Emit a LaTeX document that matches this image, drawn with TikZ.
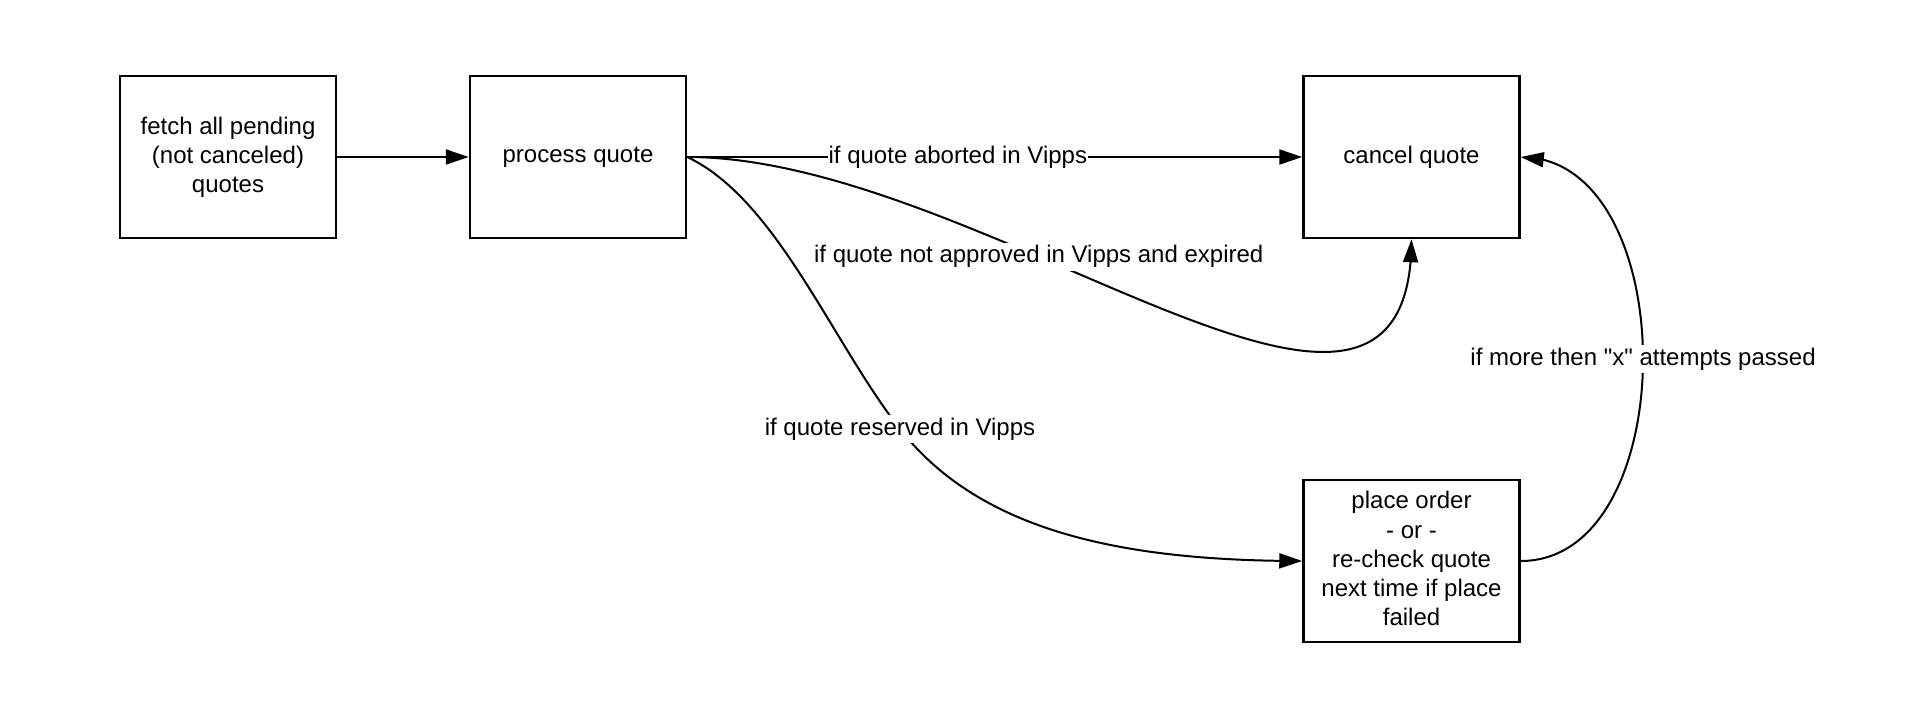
\documentclass[tikz,border=0pt]{standalone}
\usepackage{fontspec}
\setmainfont{Liberation Sans}
\usetikzlibrary{arrows.meta,bending}
\tikzset{
  box/.style={draw, line width=1.25pt, minimum width=108pt, minimum height=81pt,
    inner sep=0pt, align=center, font=\fontsize{12pt}{14.6pt}\selectfont},
  conn/.style={line width=1pt, -{Triangle[length=11.5pt,width=7.5pt,flex]}},
  lab/.style={fill=white, inner xsep=0.5pt, inner ysep=1.5pt,
    font=\fontsize{12pt}{14.6pt}\selectfont},
}
\begin{document}
\begin{tikzpicture}[x=0.5pt,y=-0.5pt]
\useasboundingbox[fill=white] (0,0) rectangle (1920,712);
\node[box] (fetch) at (228,157) {fetch all pending\\(not canceled)\\quotes};
\node[box] (pq) at (578,157) {process quote};
\node[box] (cq) at (1411.5,157) {cancel quote};
\node[box] (po) at (1411.5,561) {place order\\- or -\\re-check quote\\next time if place\\failed\vphantom{q}};

\draw[conn] (fetch.east) -- (pq.west);
\draw[conn] (pq.east) -- node[lab,pos=0.44] (l1) {if quote aborted in Vipps} (cq.west);
\draw[conn] (pq.east) .. controls +(300,0) and +(0,295) ..
  node[lab,pos=0.365] (l2) {if quote not approved in Vipps and expired} (cq.south);
\draw[conn] (pq.east) .. controls (776.6,199.3) and (832,342.3) ..
  node[lab,pos=1] (l3) {if quote reserved in Vipps} (900,429)
  .. controls (980,531.4) and (1122,561) .. (po.west);
\draw[conn] (po.east) .. controls +(163,0) and +(163,0) ..
  node[lab,pos=0.5] (l4) {if more then \textquotedbl x\textquotedbl{} attempts passed} (cq.east);
\end{tikzpicture}
\end{document}
